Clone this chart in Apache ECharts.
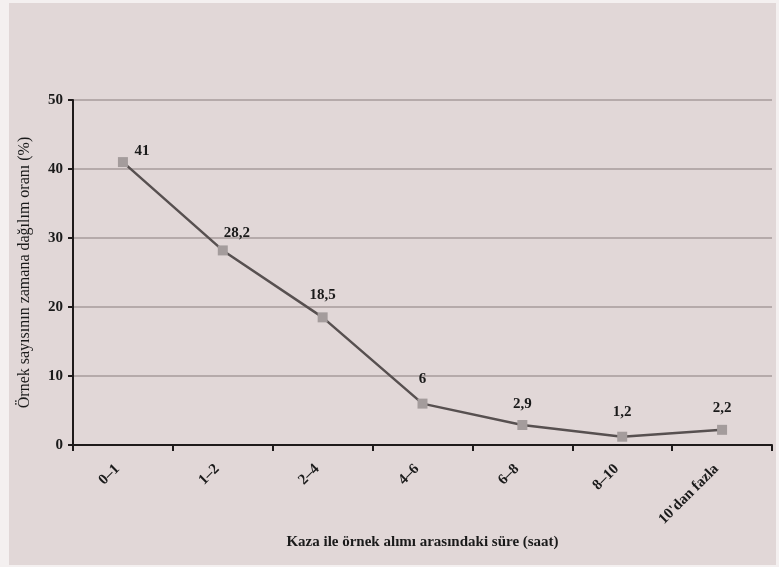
<!DOCTYPE html>
<html>
<head>
<meta charset="utf-8">
<script src="https://cdn.jsdelivr.net/npm/echarts@6/dist/echarts.min.js"></script>
<style>
html,body{margin:0;padding:0;background:#f4f0f0;width:779px;height:567px;overflow:hidden;}
#c{position:absolute;left:9px;top:3px;width:767px;height:562px;background:#e1d7d7;}
</style>
</head>
<body>
<div id="c"></div>
<script>
const categories = ['0–1', '1–2', '2–4', '4–6', '6–8', '8–10', "10'dan fazla"];
const values = [41, 28.2, 18.5, 6, 2.9, 1.2, 2.2];
const valueLabels = ['41', '28,2', '18,5', '6', '2,9', '1,2', '2,2'];
const yTicks = [0, 10, 20, 30, 40, 50];

const labelOffsets = [[19, 12], [14, 5], [0, 0], [0, -2], [0, 2], [0, -2], [0, 1]];
const font = '"Liberation Serif", "DejaVu Serif", serif';

const chart = echarts.init(document.getElementById('c'));
chart.setOption({
  backgroundColor: 'transparent',
  animation: false,
  grid: {left: 64, right: 4, top: 97, bottom: 120},
  xAxis: {
    type: 'category',
    data: categories,
    boundaryGap: true,
    name: 'Kaza ile örnek alımı arasındaki süre (saat)',
    nameLocation: 'middle',
    nameGap: 90,
    nameTextStyle: {fontFamily: font, fontWeight: 'bold', fontSize: 15, color: '#1a1a1a'},
    axisLine: {lineStyle: {color: '#1e1a1a', width: 2}},
    axisTick: {show: true, length: 6, lineStyle: {color: '#1e1a1a', width: 2}},
    axisLabel: {rotate: 45, margin: 16, padding: [0, 8, 0, 0], fontFamily: font, fontWeight: 'bold', fontSize: 15, color: '#1a1a1a'},
    splitLine: {show: false}
  },
  yAxis: {
    type: 'value',
    min: yTicks[0],
    max: yTicks[yTicks.length - 1],
    interval: 10,
    name: 'Örnek sayısının zamana dağılım oranı (%)',
    nameLocation: 'middle',
    nameGap: 40,
    nameTextStyle: {fontFamily: font, fontSize: 16, color: '#1a1a1a'},
    axisLine: {show: true, lineStyle: {color: '#1e1a1a', width: 2}},
    axisTick: {show: true, length: 5, lineStyle: {color: '#1e1a1a', width: 2}},
    axisLabel: {margin: 10, fontFamily: font, fontWeight: 'bold', fontSize: 15, color: '#1a1a1a'},
    splitLine: {show: true, lineStyle: {color: '#b5aaaa', width: 2}}
  },
  series: [{
    type: 'line',
    data: values.map((v, i) => ({
      value: v,
      label: {offset: labelOffsets[i], formatter: valueLabels[i]}
    })),
    symbol: 'rect',
    symbolSize: 10,
    itemStyle: {color: '#a49c9c'},
    lineStyle: {color: '#575050', width: 2.5},
    label: {
      show: true,
      position: 'top',
      distance: 10,
      fontFamily: font,
      fontWeight: 'bold',
      fontSize: 15,
      color: '#1a1a1a'
    }
  }]
});
</script>
</body>
</html>
